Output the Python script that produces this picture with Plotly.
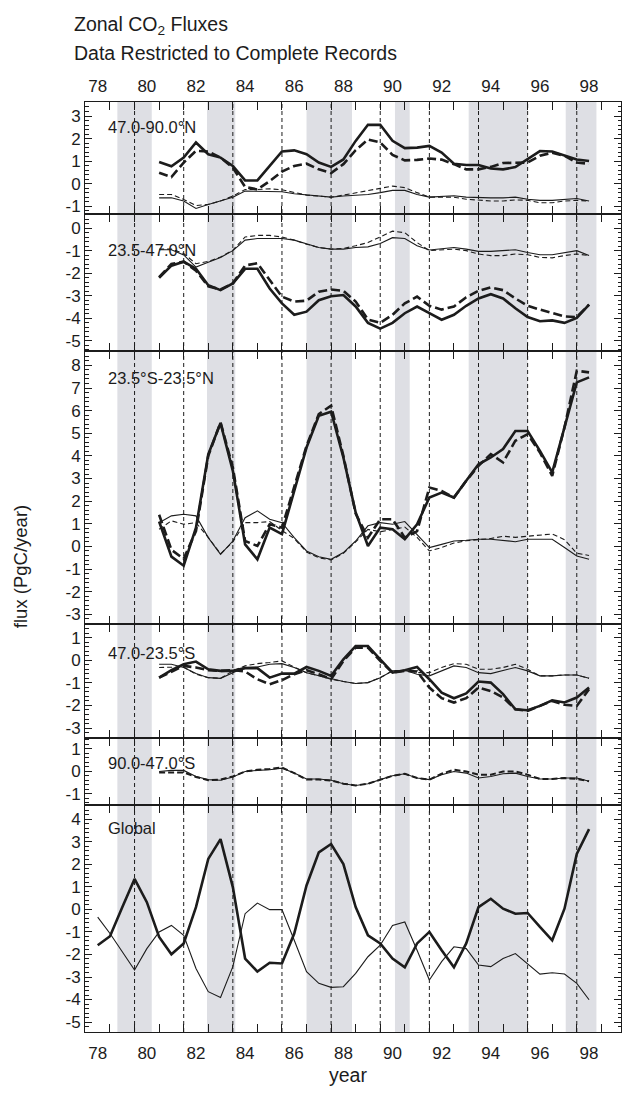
import plotly.graph_objects as go

FONT = "Liberation Sans, Arial, Helvetica, sans-serif"
INK = "#1c1c1c"
BAND = "#dedfe4"

# ---------------------------------------------------------------- time axes
t_global = [78.0, 78.5, 79.0, 79.5, 80.0, 80.5, 81.0, 81.5, 82.0, 82.5,
            83.0, 83.5, 84.0, 84.5, 85.0, 85.5, 86.0, 86.5, 87.0, 87.5,
            88.0, 88.5, 89.0, 89.5, 90.0, 90.5, 91.0, 91.5, 92.0, 92.5,
            93.0, 93.5, 94.0, 94.5, 95.0, 95.5, 96.0, 96.5, 97.0, 97.5, 98.0]
t_zonal = t_global[5:]

year_labels = [78, 80, 82, 84, 86, 88, 90, 92, 94, 96, 98]
year_ticks = [78.5, 79.5, 80.5, 81.5, 82.5, 83.5, 84.5, 85.5, 86.5, 87.5,
              88.5, 89.5, 90.5, 91.5, 92.5, 93.5, 94.5, 95.5, 96.5, 97.5, 98.5]
guide_years = [79.5, 81.5, 83.5, 85.5, 87.5, 89.5, 91.5, 93.5, 95.5, 97.5]
shaded_periods = [(78.8, 80.2), (82.45, 83.6), (86.5, 88.35),
                  (90.1, 90.7), (93.1, 95.5), (97.05, 98.3)]

# ---------------------------------------------------------------- 47.0-90.0 N
nh_high_thick_solid = [0.97, 0.78, 1.16, 1.83, 1.31, 1.16, 0.79, 0.15, 0.15, 0.78,
                       1.43, 1.48, 1.31, 0.94, 0.75, 1.08, 1.90, 2.61, 2.61, 1.90,
                       1.58, 1.60, 1.68, 1.38, 0.89, 0.83, 0.83, 0.68, 0.64, 0.74,
                       1.08, 1.45, 1.43, 1.26, 1.08, 1.01]
nh_high_thick_dash = [0.49, 0.30, 0.94, 1.46, 1.43, 1.16, 0.72, -0.14, -0.25, 0.12,
                      0.54, 0.79, 0.89, 0.64, 0.48, 0.87, 1.49, 1.96, 1.83, 1.28,
                      1.04, 1.06, 1.12, 1.07, 0.87, 0.64, 0.64, 0.75, 0.92, 0.92,
                      0.94, 1.24, 1.38, 1.24, 0.94, 0.89]
nh_high_thin_solid = [-0.62, -0.62, -0.76, -1.09, -0.91, -0.76, -0.59, -0.32, -0.32, -0.32,
                      -0.35, -0.44, -0.50, -0.54, -0.59, -0.54, -0.52, -0.47, -0.39, -0.29,
                      -0.29, -0.47, -0.59, -0.56, -0.53, -0.59, -0.62, -0.62, -0.62, -0.59,
                      -0.68, -0.73, -0.73, -0.69, -0.65, -0.76]
nh_high_thin_dash = [-0.47, -0.47, -0.69, -0.96, -0.91, -0.76, -0.54, -0.25, -0.25, -0.22,
                     -0.26, -0.39, -0.50, -0.54, -0.59, -0.50, -0.41, -0.32, -0.20, -0.10,
                     -0.17, -0.39, -0.59, -0.59, -0.59, -0.68, -0.73, -0.76, -0.76, -0.71,
                     -0.73, -0.84, -0.84, -0.76, -0.73, -0.76]

# ---------------------------------------------------------------- 23.5-47.0 N
nh_mid_thick_solid = [-2.20, -1.66, -1.48, -1.80, -2.53, -2.75, -2.45, -1.80, -1.80, -2.68,
                      -3.34, -3.85, -3.71, -3.20, -3.02, -2.97, -3.48, -4.21, -4.47, -4.21,
                      -3.78, -3.48, -3.78, -4.07, -3.85, -3.45, -3.12, -2.93, -3.12, -3.56,
                      -3.95, -4.14, -4.10, -4.21, -3.99, -3.40]
nh_mid_thick_dash = [-2.17, -1.58, -1.48, -1.88, -2.58, -2.72, -2.45, -1.65, -1.55, -2.31,
                     -3.04, -3.26, -3.22, -2.82, -2.72, -2.78, -3.26, -4.06, -4.21, -3.85,
                     -3.34, -3.04, -3.45, -3.62, -3.48, -3.07, -2.78, -2.63, -2.75, -3.12,
                     -3.45, -3.62, -3.77, -3.92, -3.95, -3.40]
nh_mid_thin_solid = [-0.95, -0.95, -1.18, -1.72, -1.51, -1.29, -0.99, -0.52, -0.45, -0.45,
                     -0.45, -0.52, -0.70, -0.85, -0.92, -0.92, -0.85, -0.82, -0.67, -0.41,
                     -0.45, -0.77, -0.96, -0.92, -0.85, -0.92, -1.02, -1.02, -0.99, -0.95,
                     -1.07, -1.17, -1.17, -1.07, -0.99, -1.21]
nh_mid_thin_dash = [-0.92, -0.92, -1.12, -1.57, -1.47, -1.27, -0.97, -0.38, -0.31, -0.31,
                    -0.38, -0.52, -0.70, -0.85, -0.92, -0.89, -0.77, -0.63, -0.38, -0.12,
                    -0.19, -0.63, -0.99, -0.96, -0.92, -0.99, -1.14, -1.21, -1.21, -1.14,
                    -1.17, -1.29, -1.31, -1.21, -1.14, -1.21]

# ---------------------------------------------------------------- 23.5 S - 23.5 N
trop_thick_solid = [1.10, -0.45, -0.85, 0.83, 4.07, 5.45, 3.34, 0.09, -0.57, 0.83,
                    0.54, 2.45, 4.37, 5.77, 5.95, 3.93, 1.50, 0.02, 0.83, 0.76,
                    0.32, 0.98, 2.16, 2.38, 2.16, 2.90, 3.63, 3.93, 4.30, 5.10,
                    5.10, 4.22, 3.27, 5.26, 7.25, 7.47]
trop_thick_dash = [1.40, -0.15, -0.55, 0.68, 4.00, 5.48, 3.49, 0.24, 0.02, 0.98,
                   0.83, 2.60, 4.44, 5.85, 6.22, 4.00, 1.45, 0.39, 1.20, 1.20,
                   0.39, 0.68, 2.60, 2.45, 2.16, 2.90, 3.56, 4.08, 3.71, 4.67,
                   4.96, 4.15, 3.12, 5.26, 7.76, 7.69]
trop_thin_solid = [1.05, 1.35, 1.42, 1.35, 0.39, -0.35, 0.24, 1.27, 1.57, 1.20,
                   1.05, 0.39, -0.20, -0.46, -0.57, -0.27, 0.24, 0.91, 1.05, 0.98,
                   1.10, 0.54, -0.05, 0.09, 0.24, 0.27, 0.32, 0.32, 0.27, 0.21,
                   0.32, 0.32, 0.32, -0.05, -0.42, -0.57]
trop_thin_dash = [0.76, 1.13, 0.98, 1.05, 0.40, -0.33, 0.20, 1.05, 1.05, 1.10,
                  0.70, 0.35, -0.25, -0.50, -0.60, -0.30, 0.20, 0.75, 0.65, 0.75,
                  0.85, 0.40, -0.20, -0.05, 0.15, 0.25, 0.30, 0.35, 0.45, 0.40,
                  0.45, 0.50, 0.55, 0.30, -0.30, -0.40]

# ---------------------------------------------------------------- 47.0-23.5 S
sh_mid_thick_solid = [-0.77, -0.44, -0.18, -0.06, -0.40, -0.47, -0.47, -0.35, -0.35, -0.77,
                      -0.59, -0.59, -0.30, -0.47, -0.69, 0.04, 0.63, 0.63, 0.04, -0.55,
                      -0.44, -0.30, -0.84, -1.43, -1.68, -1.47, -0.94, -0.99, -1.50, -2.17,
                      -2.21, -2.02, -1.77, -1.87, -1.65, -1.21]
sh_mid_thick_dash = [-0.77, -0.50, -0.25, -0.32, -0.44, -0.47, -0.44, -0.50, -0.84, -1.06,
                     -0.88, -0.62, -0.44, -0.62, -0.84, -0.03, 0.56, 0.56, -0.03, -0.55,
                     -0.47, -0.50, -1.21, -1.68, -1.87, -1.68, -1.21, -1.36, -1.65, -2.17,
                     -2.24, -2.02, -1.80, -1.97, -2.02, -1.28]
sh_mid_thin_solid = [-0.18, -0.18, -0.32, -0.59, -0.77, -0.80, -0.55, -0.32, -0.30, -0.18,
                     -0.15, -0.32, -0.55, -0.69, -0.80, -0.94, -1.03, -0.99, -0.77, -0.47,
                     -0.44, -0.62, -0.69, -0.47, -0.25, -0.32, -0.55, -0.59, -0.47, -0.32,
                     -0.47, -0.69, -0.69, -0.65, -0.65, -0.80]
sh_mid_thin_dash = [-0.32, -0.30, -0.30, -0.62, -0.77, -0.80, -0.47, -0.25, -0.15, -0.10,
                    -0.03, -0.30, -0.55, -0.69, -0.84, -0.94, -1.03, -0.99, -0.77, -0.47,
                    -0.44, -0.55, -0.55, -0.32, -0.15, -0.18, -0.40, -0.40, -0.32, -0.18,
                    -0.40, -0.69, -0.69, -0.65, -0.65, -0.80]

# ---------------------------------------------------------------- 90.0-47.0 S
sh_high_solid = [-0.02, 0.03, 0.03, -0.24, -0.38, -0.41, -0.26, -0.02, 0.03, 0.06,
                 0.13, -0.09, -0.35, -0.35, -0.41, -0.56, -0.64, -0.56, -0.38, -0.21,
                 -0.12, -0.31, -0.38, -0.16, -0.02, -0.09, -0.31, -0.24, -0.12, -0.09,
                 -0.24, -0.35, -0.35, -0.31, -0.31, -0.45]
sh_high_dash = [-0.06, -0.06, -0.06, -0.26, -0.41, -0.38, -0.24, -0.02, 0.06, 0.09,
                0.16, -0.09, -0.38, -0.38, -0.42, -0.56, -0.64, -0.56, -0.38, -0.21,
                -0.12, -0.31, -0.38, -0.12, 0.06, -0.02, -0.16, -0.16, -0.02, -0.02,
                -0.16, -0.35, -0.35, -0.31, -0.35, -0.45]

# ---------------------------------------------------------------- Global
global_thick = [-1.59, -1.19, 0.10, 1.35, 0.32, -1.22, -1.99, -1.51, 0.10, 2.24,
                3.12, 0.99, -2.18, -2.76, -2.37, -2.40, -1.07, 1.06, 2.53, 2.90,
                2.01, 0.10, -1.15, -1.51, -2.18, -2.57, -1.51, -1.00, -1.81, -2.57,
                -1.51, 0.10, 0.47, 0.03, -0.19, -0.16, -0.78, -1.37, 0.03, 2.46, 3.56]
global_thin = [-0.34, -1.07, -1.88, -2.69, -1.74, -1.00, -0.71, -1.15, -2.62, -3.65,
               -3.91, -2.54, -0.19, 0.28, -0.01, -0.01, -1.37, -2.76, -3.28, -3.46,
               -3.43, -2.84, -2.10, -1.59, -0.71, -0.56, -1.81, -3.13, -2.32, -1.66,
               -1.74, -2.47, -2.54, -2.18, -1.96, -2.40, -2.87, -2.81, -2.87, -3.28, -4.01]

# ---------------------------------------------------------------- line styles
THICK_SOLID = dict(color=INK, width=2.6)
THICK_DASH = dict(color=INK, width=2.6, dash="9px,4px")
THIN_SOLID = dict(color=INK, width=1.1)
THIN_DASH = dict(color=INK, width=1.1, dash="5px,3px")
MID_DASH = dict(color=INK, width=2.0, dash="6px,3px")

panels = [
    dict(label="47.0-90.0°N", yrange=[-1.35, 3.62], yticks=[3, 2, 1, 0, -1], label_y=2.5,
         domain=[0.8792, 1.0],
         lines=[(t_zonal, nh_high_thin_solid, THIN_SOLID), (t_zonal, nh_high_thin_dash, THIN_DASH),
                (t_zonal, nh_high_thick_solid, THICK_SOLID), (t_zonal, nh_high_thick_dash, THICK_DASH)]),
    dict(label="23.5-47.0°N", yrange=[-5.48, 0.63], yticks=[0, -1, -2, -3, -4, -5], label_y=-0.95,
         domain=[0.7319, 0.8792],
         lines=[(t_zonal, nh_mid_thin_solid, THIN_SOLID), (t_zonal, nh_mid_thin_dash, THIN_DASH),
                (t_zonal, nh_mid_thick_solid, THICK_SOLID), (t_zonal, nh_mid_thick_dash, THICK_DASH)]),
    dict(label="23.5°S-23.5°N", yrange=[-3.44, 8.62], yticks=[8, 7, 6, 5, 4, 3, 2, 1, 0, -1, -2, -3],
         label_y=7.45, domain=[0.4384, 0.7319],
         lines=[(t_zonal, trop_thin_solid, THIN_SOLID), (t_zonal, trop_thin_dash, THIN_DASH),
                (t_zonal, trop_thick_solid, THICK_SOLID), (t_zonal, trop_thick_dash, THICK_DASH)]),
    dict(label="47.0-23.5°S", yrange=[-3.42, 1.59], yticks=[1, 0, -1, -2, -3], label_y=0.3,
         domain=[0.3166, 0.4384],
         lines=[(t_zonal, sh_mid_thin_solid, THIN_SOLID), (t_zonal, sh_mid_thin_dash, THIN_DASH),
                (t_zonal, sh_mid_thick_solid, THICK_SOLID), (t_zonal, sh_mid_thick_dash, THICK_DASH)]),
    dict(label="90.0-47.0°S", yrange=[-1.52, 1.49], yticks=[1, 0, -1], label_y=0.35,
         domain=[0.2438, 0.3166],
         lines=[(t_zonal, sh_high_solid, THIN_SOLID), (t_zonal, sh_high_dash, MID_DASH)]),
    dict(label="Global", yrange=[-5.44, 4.62], yticks=[4, 3, 2, 1, 0, -1, -2, -3, -4, -5],
         label_y=3.6, domain=[0.0, 0.2438],
         lines=[(t_global, global_thin, THIN_SOLID), (t_global, global_thick, THICK_SOLID)]),
]

X_RANGE = [77.483, 99.3]
TICK_FONT = dict(family=FONT, size=17, color=INK)

fig = go.Figure()
layout = dict(
    width=624, height=1094,
    margin=dict(l=85, r=3, t=102, b=62),
    paper_bgcolor="white", plot_bgcolor="rgba(0,0,0,0)",
    showlegend=False,
    font=dict(family=FONT, color=INK),
)

annotations = []
for i, p in enumerate(panels, start=1):
    xa = "x" if i == 1 else f"x{i}"
    ya = "y" if i == 1 else f"y{i}"
    for xs, ys, style in p["lines"]:
        fig.add_trace(go.Scatter(x=xs, y=ys, mode="lines", line=style,
                                 xaxis=xa, yaxis=ya, hoverinfo="skip"))
    xkey = "xaxis" if i == 1 else f"xaxis{i}"
    ykey = "yaxis" if i == 1 else f"yaxis{i}"
    xdef = dict(anchor=ya, range=X_RANGE, tickmode="array", tickvals=year_ticks,
                showticklabels=False, ticks="inside", ticklen=8, tickwidth=1,
                tickcolor=INK, showline=True, linecolor=INK, linewidth=1,
                mirror="ticks", showgrid=False, zeroline=False)
    if i > 1:
        xdef["matches"] = "x"
    layout[xkey] = xdef
    layout[ykey] = dict(
        anchor=xa, domain=p["domain"], range=p["yrange"], tickmode="array",
        tickvals=p["yticks"], ticktext=[str(v) for v in p["yticks"]],
        ticks="inside", ticklen=7, tickwidth=1, tickcolor=INK,
        minor=dict(ticks="inside", ticklen=3.5, dtick=0.2, tick0=0, tickcolor=INK, tickwidth=1),
        showline=True, linecolor=INK, linewidth=1, mirror="ticks",
        showgrid=False, zeroline=False, tickfont=TICK_FONT,
    )
    annotations.append(dict(text=p["label"], x=78.35, y=p["label_y"], xref=xa, yref=ya,
                            xanchor="left", yanchor="middle", showarrow=False,
                            font=dict(family=FONT, size=16.5, color=INK)))

# year labels below the bottom panel and above the top panel
fig.add_trace(go.Scatter(x=[], y=[], xaxis="x7", yaxis="y6", hoverinfo="skip"))
fig.add_trace(go.Scatter(x=[], y=[], xaxis="x8", yaxis="y", hoverinfo="skip"))
label_axis = dict(range=X_RANGE, tickmode="array", tickvals=year_labels,
                  ticktext=[str(v) for v in year_labels], ticks="", showline=False,
                  showgrid=False, zeroline=False, tickfont=TICK_FONT)
layout["xaxis7"] = dict(label_axis, overlaying="x6", anchor="y6", side="bottom",
                        ticklabelstandoff=9)
layout["xaxis8"] = dict(label_axis, overlaying="x", anchor="y", side="top",
                        ticklabelstandoff=6)

# shaded periods and dashed guide years
shapes = []
for x0, x1 in shaded_periods:
    shapes.append(dict(type="rect", xref="x", yref="paper", x0=x0, x1=x1, y0=0, y1=1,
                       fillcolor=BAND, line=dict(width=0), layer="below"))
for gx in guide_years:
    shapes.append(dict(type="line", xref="x", yref="paper", x0=gx, x1=gx, y0=0, y1=1,
                       line=dict(color=INK, width=1, dash="4px,3px"), layer="below"))
layout["shapes"] = shapes

# titles
annotations += [
    dict(text="Zonal CO<sub>2</sub> Fluxes", x=-0.0243, y=1.0823, xref="paper", yref="paper",
         xanchor="left", yanchor="middle", showarrow=False,
         font=dict(family=FONT, size=19.5, color=INK)),
    dict(text="Data Restricted to Complete Records", x=-0.0243, y=1.0522, xref="paper",
         yref="paper", xanchor="left", yanchor="middle", showarrow=False,
         font=dict(family=FONT, size=19.5, color=INK)),
    dict(text="flux (PgC/year)", x=-0.121, y=0.50, xref="paper", yref="paper",
         xanchor="center", yanchor="middle", textangle=-90, showarrow=False,
         font=dict(family=FONT, size=18.5, color=INK)),
    dict(text="year", x=0.49, y=-0.0459, xref="paper", yref="paper",
         xanchor="center", yanchor="middle", showarrow=False,
         font=dict(family=FONT, size=19.5, color=INK)),
]
layout["annotations"] = annotations

fig.update_layout(**layout)
fig.write_html("out.html")
